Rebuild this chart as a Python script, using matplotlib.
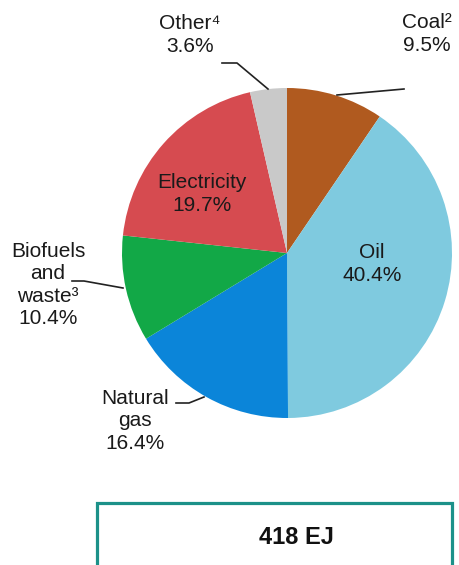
import matplotlib.pyplot as plt
from matplotlib.patches import Rectangle

# final energy consumption by source
sources = ["Coal²", "Oil", "Natural gas", "Biofuels and waste³", "Electricity", "Other⁴"]
shares = [9.5, 40.4, 16.4, 10.4, 19.7, 3.6]
colors = ["#b05a1f", "#7fcadf", "#0b85d9", "#12a847", "#d64b50", "#c9c9c9"]
total_label = "418 EJ"

W, H = 459, 565
plt.rcParams['font.family'] = ['Liberation Sans', 'DejaVu Sans']

fig = plt.figure(figsize=(W / 100, H / 100), dpi=100)
ax = fig.add_axes([0, 0, 1, 1])

def Y(y):
    # work in top-down pixel rows
    return H - y

ax.pie(shares, colors=colors, startangle=90, counterclock=False,
       center=(287, Y(253)), radius=165, frame=True,
       wedgeprops=dict(linewidth=0))
ax.set_xlim(0, W)
ax.set_ylim(0, H)
ax.set_aspect('equal')
ax.axis('off')

fs = 15
txt = dict(fontsize=fs, color="#1a1a1a", ha='center', va='center', linespacing=1.22)

def pct(v):
    return f"{v:.1f}%"

# labels inside the slices
ax.text(202, Y(194), f"Electricity\n{pct(shares[4])}", **txt)
ax.text(372, Y(264), f"Oil\n{pct(shares[1])}", **txt)

# labels outside with leader lines
ax.text(190, Y(35), f"Other⁴\n{pct(shares[5])}", **txt)
ax.plot([222, 237, 268], [Y(63), Y(63), Y(89)], color="#222222", lw=1.2)

ax.text(427, Y(34), f"Coal²\n{pct(shares[0])}", **txt)
ax.plot([337, 404], [Y(95), Y(89)], color="#222222", lw=1.2)

ax.text(48, Y(285), f"Biofuels\nand\nwaste³\n{pct(shares[3])}", **txt)
ax.plot([72, 84, 123], [Y(281), Y(281), Y(288)], color="#222222", lw=1.2)

ax.text(135, Y(421), f"Natural\ngas\n{pct(shares[2])}", **txt)
ax.plot([176, 189, 204], [Y(403), Y(403), Y(397)], color="#222222", lw=1.2)

# total box
ax.add_patch(Rectangle((97, Y(580)), 355, 77, fill=False,
                       edgecolor="#1c9189", linewidth=2.3, clip_on=False))
ax.text(296, Y(537), total_label, fontsize=17, fontweight='bold',
        color="#111111", ha='center', va='center')

fig.savefig("out.png", dpi=100)
